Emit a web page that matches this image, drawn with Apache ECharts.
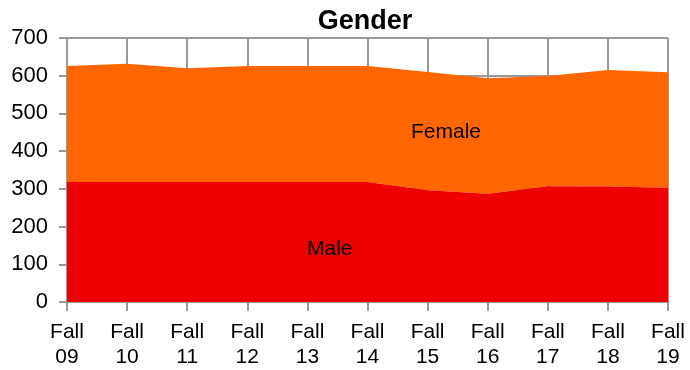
<!DOCTYPE html>
<html>
<head>
<meta charset="utf-8">
<script src="https://cdn.jsdelivr.net/npm/echarts@6/dist/echarts.min.js"></script>
<style>
  html, body { margin: 0; padding: 0; background: #fff; }
  #chart { width: 690px; height: 370px; }
</style>
</head>
<body>
<div id="chart"></div>
<script>
// Enrollment by gender, fall terms 2009-2019 (stacked areas)
const terms = ['Fall\n09', 'Fall\n10', 'Fall\n11', 'Fall\n12', 'Fall\n13', 'Fall\n14',
               'Fall\n15', 'Fall\n16', 'Fall\n17', 'Fall\n18', 'Fall\n19'];
const male   = [318, 318, 318, 318, 318, 318, 296, 287, 307, 306, 303];
const female = [308, 314, 302, 308, 308, 308, 314, 306, 292, 309, 306];
const yTicks = { min: 0, max: 700, step: 100 };

const FONT = "'Liberation Sans', Arial, sans-serif";
const GRID_COLOR = '#999999';

const chart = echarts.init(document.getElementById('chart'), null, { renderer: 'canvas' });

chart.setOption({
  animation: false,
  backgroundColor: '#ffffff',
  title: {
    text: 'Gender',
    left: 360,
    top: 3,
    textAlign: 'center',
    textStyle: { fontFamily: FONT, fontSize: 27, fontWeight: 'bold', color: '#000' }
  },
  grid: { left: 67, right: 22, top: 38, bottom: 66, containLabel: false },
  xAxis: {
    type: 'category',
    data: terms,
    boundaryGap: false,
    axisLine: { show: true, lineStyle: { color: GRID_COLOR, width: 2 } },
    axisTick: { show: true, length: 9, lineStyle: { color: GRID_COLOR, width: 2 } },
    splitLine: { show: true, lineStyle: { color: GRID_COLOR, width: 2 } },
    axisLabel: {
      fontFamily: FONT, fontSize: 21, color: '#000', lineHeight: 25, margin: 18,
      interval: 0
    }
  },
  yAxis: {
    type: 'value',
    min: yTicks.min,
    max: yTicks.max,
    interval: yTicks.step,
    axisLine: { show: true, lineStyle: { color: GRID_COLOR, width: 2 } },
    axisTick: { show: true, length: 8, lineStyle: { color: GRID_COLOR, width: 2 } },
    splitLine: { show: true, lineStyle: { color: GRID_COLOR, width: 2 } },
    axisLabel: { fontFamily: FONT, fontSize: 22, color: '#000', margin: 19 }
  },
  series: [
    {
      name: 'Male',
      type: 'line',
      stack: 'gender',
      data: male,
      symbol: 'none',
      lineStyle: { width: 0 },
      areaStyle: { color: '#EE0000', opacity: 1 },
      z: 3
    },
    {
      name: 'Female',
      type: 'line',
      stack: 'gender',
      data: female,
      symbol: 'none',
      lineStyle: { width: 0 },
      areaStyle: { color: '#FF6600', opacity: 1 },
      z: 2
    }
  ],
  graphic: [
    {
      type: 'text', left: 411, top: 122, z: 100,
      style: { text: 'Female', fontFamily: FONT, fontSize: 21, fill: '#000' }
    },
    {
      type: 'text', left: 307, top: 239, z: 100,
      style: { text: 'Male', fontFamily: FONT, fontSize: 21, fill: '#000' }
    }
  ]
});
</script>
</body>
</html>
